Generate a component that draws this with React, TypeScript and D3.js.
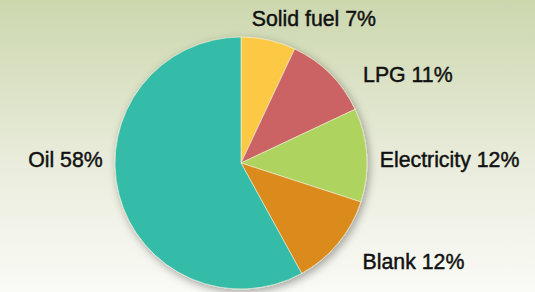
import React from "react"
import * as d3 from "d3"

// slice order, clockwise from 12 o'clock
const categories = ["Solid fuel", "LPG", "Electricity", "Blank", "Oil"]
const shares = [7, 11, 12, 12, 58]
const colors = ["#fdc945", "#cb6465", "#aed35e", "#db8a1c", "#35bca8"]

// hand placed label offsets from the label arc
const labelNudge: Record<string, [number, number, string]> = {
  "Solid fuel":  [-22, 9, "start"],
  "LPG":         [16, 25, "start"],
  "Electricity": [-11, 13, "start"],
  "Blank":       [6, 10, "start"],
  "Oil":         [7, -33, "end"],
}

const W = 535
const H = 292
const cx = 241
const cy = 163
const radius = 126

const App: React.FC = () => {
  const data = categories.map((c, i) => ({ name: c, value: shares[i], color: colors[i] }))

  const pie = d3.pie<{ name: string, value: number, color: string }>()
    .sort(null)
    .value(d => d.value)

  const arcs = pie(data)

  const arc = d3.arc<d3.PieArcDatum<any>>()
    .innerRadius(0)
    .outerRadius(radius)

  const labelArc = d3.arc<d3.PieArcDatum<any>>()
    .innerRadius(150)
    .outerRadius(150)

  return (
    <div style={{ position: "absolute", left: 0, top: 0 }}>
      <svg width={W} height={H} style={{ display: "block" }}>
        <defs>
          <linearGradient id="bg-grad" x1="0" y1="0" x2="0" y2="1">
            <stop offset="0%" stopColor="#ccd7ae" />
            <stop offset="55%" stopColor="#e9ecdb" />
            <stop offset="100%" stopColor="#fafaf6" />
          </linearGradient>
          <filter id="pie-shadow" x="-20%" y="-20%" width="140%" height="140%">
            <feDropShadow dx="2" dy="3" stdDeviation="4" floodColor="#000" floodOpacity="0.35" />
          </filter>
        </defs>
        <rect x={0} y={0} width={W} height={H} fill="url(#bg-grad)" />
        <g transform={`translate(${cx},${cy})`}>
          <g filter="url(#pie-shadow)">
            {arcs.map(a => (
              <path key={a.data.name} d={arc(a) || ""} fill={a.data.color}
                stroke="#f4f1dc" strokeWidth={0.6} strokeLinejoin="round" />
            ))}
          </g>
          {arcs.map(a => {
            const [x, y] = labelArc.centroid(a)
            const [dx, dy, anchor] = labelNudge[a.data.name]
            return (
              <text key={"l-" + a.data.name} x={x + dx} y={y + dy}
                textAnchor={anchor}
                fontFamily="'Liberation Sans', Arial, Helvetica, sans-serif"
                fontSize={21.3} fill="#111" stroke="#111" strokeWidth={0.45}>
                {`${a.data.name} ${a.data.value}%`}
              </text>
            )
          })}
        </g>
      </svg>
    </div>
  )
}

export default App
